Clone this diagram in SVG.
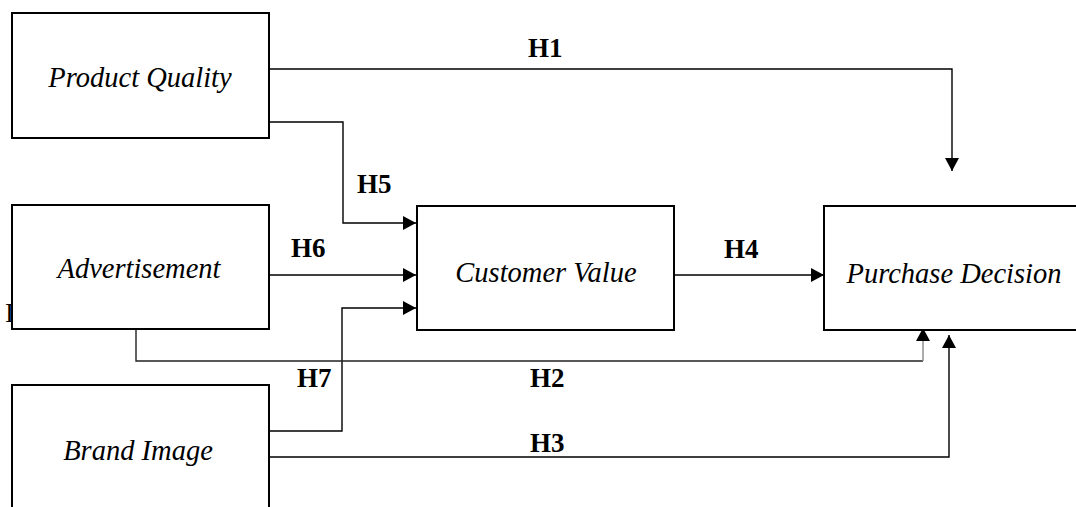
<svg xmlns="http://www.w3.org/2000/svg" width="1076" height="507" viewBox="0 0 1076 507">
  <style>
    .box { fill: #ffffff; stroke: #000000; stroke-width: 2; }
    .name { font-family: "Liberation Serif", "Times New Roman", serif; font-style: italic; font-size: 28.5px; fill: #000000; text-anchor: middle; }
    .hyp { font-family: "Liberation Serif", "Times New Roman", serif; font-weight: bold; font-size: 27px; fill: #000000; }
    .link { fill: none; stroke: #000000; stroke-width: 1.4; }
  </style>
  <defs>
    <marker id="head" markerUnits="userSpaceOnUse" markerWidth="14" markerHeight="14" refX="13" refY="7" orient="auto">
      <path d="M0,0 L13,7 L0,14 Z" fill="#000000"/>
    </marker>
  </defs>

  <rect width="1076" height="507" fill="#ffffff"/>

  <!-- stray character partly covered by the Advertisement box -->
  <text x="5" y="322" style="font-family: 'Liberation Serif', serif; font-size: 27px;" fill="#000000">I</text>

  <g id="connectors">
    <!-- H1: Product Quality -> Purchase Decision -->
    <path class="link" d="M269,69 H952 V171" marker-end="url(#head)"/>
    <!-- H5: Product Quality -> Customer Value -->
    <path class="link" d="M269,122 H343 V223 H416" marker-end="url(#head)"/>
    <!-- H6: Advertisement -> Customer Value -->
    <path class="link" d="M269,275 H416" marker-end="url(#head)"/>
    <!-- H4: Customer Value -> Purchase Decision -->
    <path class="link" d="M674,275 H824" marker-end="url(#head)"/>
    <!-- H7: Brand Image -> Customer Value -->
    <path class="link" d="M269,431 H342 V308 H416" marker-end="url(#head)"/>
    <!-- H2: Advertisement -> Purchase Decision -->
    <path class="link" d="M136,329 V361 H923" style="stroke:#222222"/>
    <path class="link" d="M923,361 V328" style="stroke:#8a8a8a" marker-end="url(#head)"/>
    <!-- H3: Brand Image -> Purchase Decision -->
    <path class="link" d="M269,457 H949 V335" marker-end="url(#head)"/>

    <text class="hyp" x="528" y="57">H1</text>
    <text class="hyp" x="357" y="193">H5</text>
    <text class="hyp" x="291" y="257">H6</text>
    <text class="hyp" x="724" y="258">H4</text>
    <text class="hyp" x="297" y="387">H7</text>
    <text class="hyp" x="530" y="387">H2</text>
    <text class="hyp" x="530" y="452">H3</text>
  </g>

  <g id="product-quality">
    <rect class="box" x="12" y="13" width="257" height="125"/>
    <text class="name" x="140" y="87">Product Quality</text>
  </g>

  <g id="advertisement">
    <rect class="box" x="12" y="205" width="257" height="124"/>
    <text class="name" x="139" y="278">Advertisement</text>
  </g>

  <g id="brand-image">
    <rect class="box" x="12" y="385" width="257" height="140"/>
    <text class="name" x="138" y="460">Brand Image</text>
  </g>

  <g id="customer-value">
    <rect class="box" x="417" y="206" width="257" height="124"/>
    <text class="name" x="546" y="282">Customer Value</text>
  </g>

  <g id="purchase-decision">
    <rect class="box" x="824" y="206" width="280" height="124"/>
    <text class="name" x="954" y="283">Purchase Decision</text>
  </g>
</svg>
